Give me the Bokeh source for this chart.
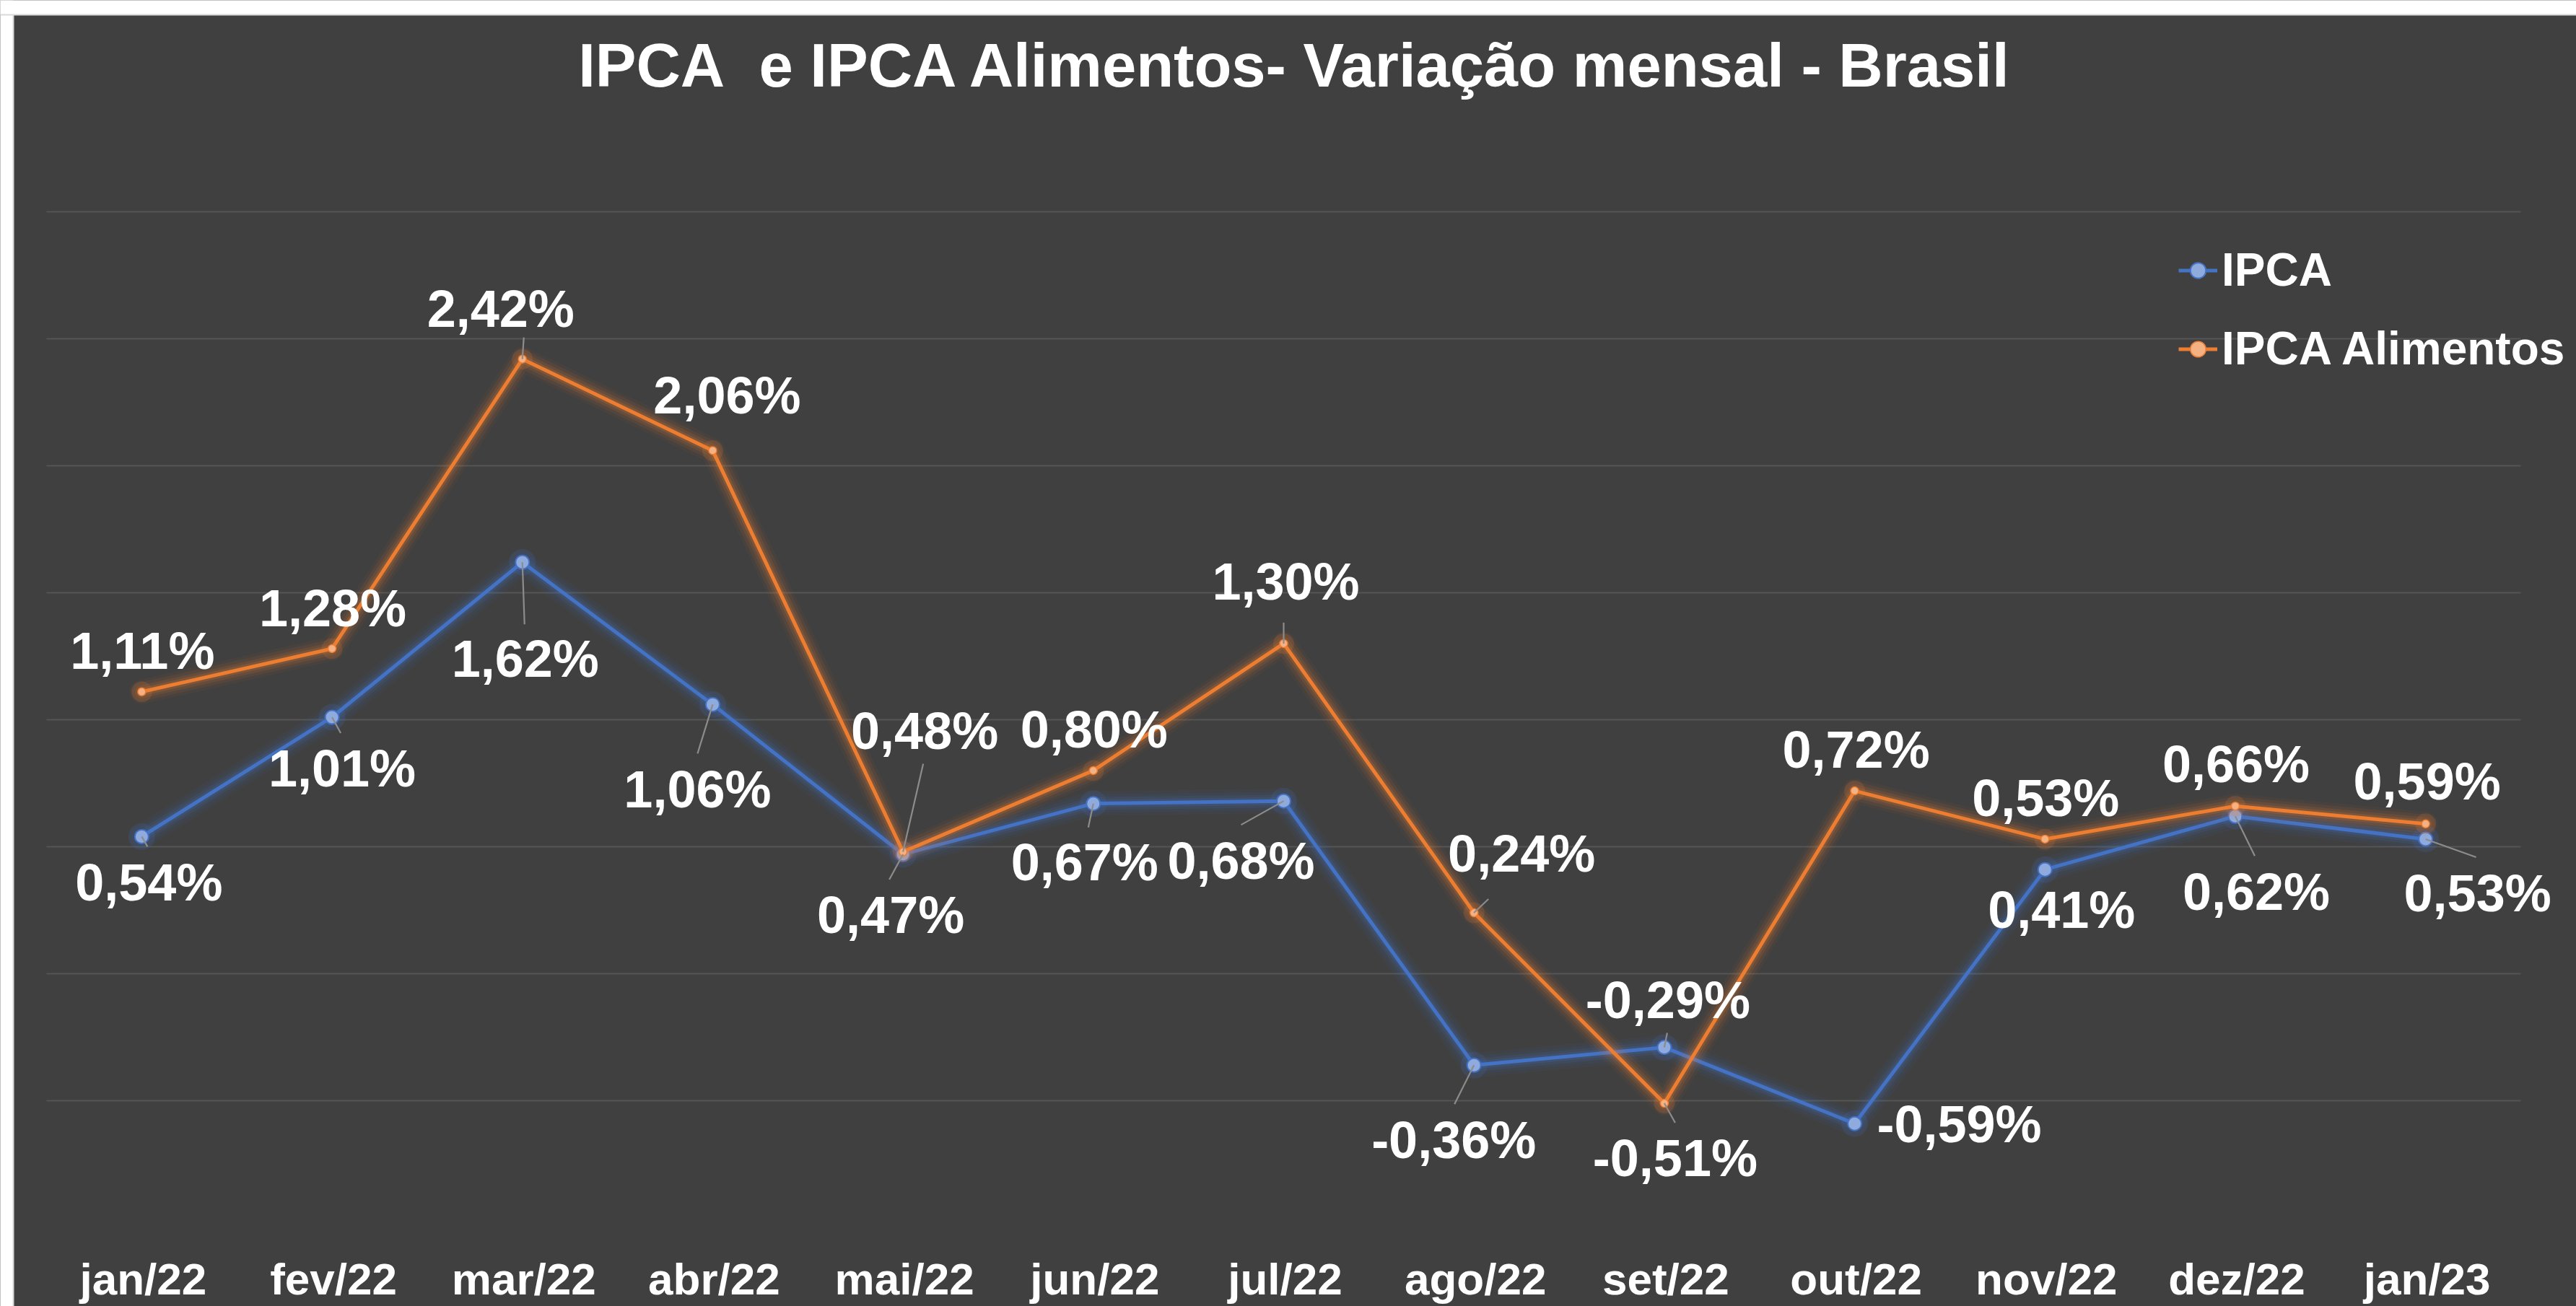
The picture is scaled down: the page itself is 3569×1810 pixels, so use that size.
from bokeh.plotting import figure
from bokeh.models import Range1d, ColumnDataSource, Legend, LegendItem, BoxAnnotation
from bokeh.embed import file_html
from bokeh.resources import INLINE
from bokeh.core.properties import value

# ---------------- data ----------------
months = ["jan/22", "fev/22", "mar/22", "abr/22", "mai/22", "jun/22", "jul/22",
          "ago/22", "set/22", "out/22", "nov/22", "dez/22", "jan/23"]
ipca = [0.54, 1.01, 1.62, 1.06, 0.47, 0.67, 0.68, -0.36, -0.29, -0.59, 0.41, 0.62, 0.53]
alimentos = [1.11, 1.28, 2.42, 2.06, 0.48, 0.80, 1.30, 0.24, -0.51, 0.72, 0.53, 0.66, 0.59]
grid_ticks = [-0.5, 0.0, 0.5, 1.0, 1.5, 2.0, 2.5, 3.0]
y_min = -1.0
title_text = "IPCA\u00a0 e IPCA Alimentos- Variação mensal - Brasil"

# ---------------- label placement (screen px, relative to point; text centre) ----------------
ipca_lab_dx = [10, 14, 4, -21, -17, -12, -59, -28, 5, 145, 23, 29, 72]
ipca_lab_dy = [64, 71, 134, 118, 84, 81, 83, 104, -66, 1, 56, 105, 75]
ali_lab_dx = [1, 1, -30, 20, 30, 1, 3, 66, 15, 2, 1, 1, 2]
ali_lab_dy = [-57, -56, -70, -76, -168, -57, -86, -82, 76, -57, -57, -58, -59]

ipca_lead = [(8, 14), (12, 22), (3, 86), (-21, 68), (-19, 35), (-7, 33), (-59, 33),
             (-27, 54), (4, -20), None, None, (27, 55), (70, 25)]
ali_lead = [None, None, (2, -30), None, (28, -122), None, (0, -29), (20, -19),
            (15, 27), None, None, None, None]

# ---------------- geometry ----------------
FIG_W, FIG_H = 3569, 1810
PLOT_LEFT, PLOT_TOP = 64, 293          # px where the plot area (x=-0.5, y=3.0) starts
PX = 3428 / len(months)                 # px per category
PY = 1408 / 4.0                         # px per 1 p.p.
X0 = -0.5 - PLOT_LEFT / PX
X1 = X0 + FIG_W / PX
Y1 = 3.0 + PLOT_TOP / PY
Y0 = Y1 - FIG_H / PY

BG = "#404040"
BLUE = "#4472C4"
BLUE_FILL = "#8FAADC"
ORANGE = "#ED7D31"
ORANGE_FILL = "#F4B183"
FONT = "Liberation Sans"

xs = list(range(len(months)))


def fmt(v):
    return f"{v:.2f}".replace(".", ",") + "%"


p = figure(width=FIG_W, height=FIG_H,
           x_range=Range1d(X0, X1), y_range=Range1d(Y0, Y1),
           output_backend="svg", toolbar_location=None,
           min_border=0, min_border_left=0, min_border_right=0,
           min_border_top=0, min_border_bottom=0,
           background_fill_color=BG, border_fill_color=BG,
           outline_line_color=None)

# page margin strips (white + thin light border as in the reference)
for w, col in [(19, "#D9D9D9"), (17, "white")]:
    p.add_layout(BoxAnnotation(left=X0, right=X0 + w / PX, bottom=Y0, top=Y1,
                               fill_color=col, fill_alpha=1, line_color=None))
for h, col in [(21, "#D9D9D9"), (19, "white")]:
    p.add_layout(BoxAnnotation(left=X0, right=X1, bottom=Y1 - h / PY, top=Y1,
                               fill_color=col, fill_alpha=1, line_color=None))

p.xaxis.visible = False
p.yaxis.visible = False
p.xgrid.visible = False
p.ygrid.visible = False

# horizontal gridlines across the plot area
p.segment(x0=[-0.5] * len(grid_ticks), y0=grid_ticks,
          x1=[len(months) - 0.5] * len(grid_ticks), y1=grid_ticks,
          line_color="#555555", line_width=2)

# category labels under the plot area
p.text(x=xs, y=[y_min] * len(xs), text=months, x_offset=2, y_offset=71,
       text_font=value(FONT), text_font_style="bold", text_font_size="62px",
       text_color="white", text_align="center", text_baseline="alphabetic")

src_b = ColumnDataSource(dict(x=xs, y=ipca, t=[fmt(v) for v in ipca],
                              dx=ipca_lab_dx, dy=ipca_lab_dy))
src_o = ColumnDataSource(dict(x=xs, y=alimentos, t=[fmt(v) for v in alimentos],
                              dx=ali_lab_dx, dy=ali_lab_dy))

# glow + lines + markers
renderers = {}
for src, col, fill, msize, key in [(src_b, BLUE, BLUE_FILL, 19, "b"),
                                   (src_o, ORANGE, ORANGE_FILL, 11, "o")]:
    for w, a in [(34, 0.05), (26, 0.08), (18, 0.11), (11, 0.18)]:
        p.line("x", "y", source=src, line_color=col, line_width=w, line_alpha=a,
               line_join="round", line_cap="round")
    p.scatter("x", "y", source=src, size=msize + 18, fill_color=col, fill_alpha=0.16,
              line_color=None)
    ln = p.line("x", "y", source=src, line_color=col, line_width=5, line_join="round")
    mk = p.scatter("x", "y", source=src, size=msize, fill_color=fill,
                   line_color=col, line_width=2 if key == "b" else 1.5)
    renderers[key] = (ln, mk)

# leader lines
lx0, ly0, lx1, ly1 = [], [], [], []
for vals, leads in [(ipca, ipca_lead), (alimentos, ali_lead)]:
    for i, (v, ld) in enumerate(zip(vals, leads)):
        if ld is None:
            continue
        dx, dy = ld
        lx0.append(i)
        ly0.append(v)
        lx1.append(i + dx / PX)
        ly1.append(v - dy / PY)
p.segment(lx0, ly0, lx1, ly1, line_color="#8C8C8C", line_width=2.2)

# data labels
for src in (src_b, src_o):
    p.text("x", "y", text="t", source=src, x_offset="dx", y_offset="dy",
           text_font=value(FONT), text_font_style="bold", text_font_size="72px",
           text_color="white", text_align="center", text_baseline="alphabetic")

# chart title (centred over the categories)
p.text(x=[(len(months) - 1) / 2], y=[Y1], text=[title_text], x_offset=17, y_offset=90,
       text_font=value(FONT), text_font_style="bold", text_font_size="85px",
       text_color="white", text_align="center", text_baseline="alphabetic")

legend = Legend(items=[LegendItem(label="IPCA", renderers=list(renderers["b"])),
                       LegendItem(label="IPCA Alimentos", renderers=list(renderers["o"]))],
                location=(3018, 1290), orientation="vertical",
                label_text_font=FONT, label_text_font_style="bold",
                label_text_font_size="64px", label_text_color="white",
                glyph_width=54, glyph_height=63, label_height=63, spacing=35,
                label_standoff=6, padding=0, margin=0,
                border_line_color=None, background_fill_alpha=0)
p.add_layout(legend)

open("out.html", "w").write(file_html(p, INLINE))
